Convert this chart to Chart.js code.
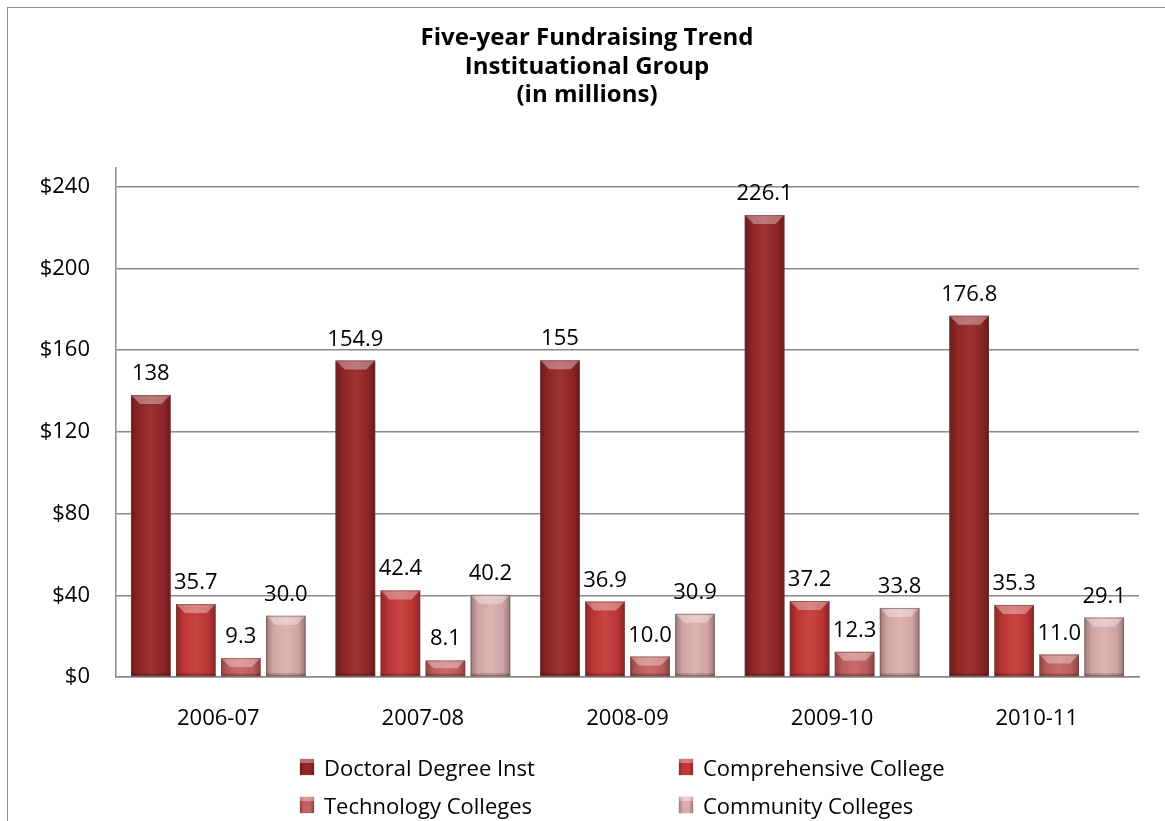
<!DOCTYPE html>
<html>
<head>
<meta charset="utf-8">
<script src="https://cdn.jsdelivr.net/npm/chart.js@4.4.0/dist/chart.umd.min.js"></script>
<style>
  html, body { margin: 0; padding: 0; background: #fff; }
  #wrap { position: relative; width: 1165px; height: 821px; overflow: hidden; }
  #frame { position: absolute; left: 7px; top: 7px; width: 1200px; height: 900px; border: 1.5px solid #8e8e8e; box-sizing: border-box; }
  #chart { position: absolute; left: 0; top: 0; }
  .legend { position: absolute; font-family: "Open Sans", Lato, sans-serif; font-size: 22px; color: #000; white-space: nowrap; }
  .legend .row { position: absolute; display: flex; align-items: center; height: 30px; }
  .legend .mk { width: 14px; height: 16px; margin-right: 10px; box-shadow: 0 0 1px rgba(90,40,40,0.6); }
</style>
</head>
<body>
<div id="wrap">
  <div id="frame"></div>
  <canvas id="chart" width="1165" height="821"></canvas>
  <div class="legend" id="legend"></div>
</div>
<script>
const categories = ['2006-07', '2007-08', '2008-09', '2009-10', '2010-11'];
const seriesNames = ['Doctoral Degree Inst', 'Comprehensive College', 'Technology Colleges', 'Community Colleges'];
const doctoral = [138, 154.9, 155, 226.1, 176.8];
const comprehensive = [35.7, 42.4, 36.9, 37.2, 35.3];
const technology = [9.3, 8.1, 10.0, 12.3, 11.0];
const community = [30.0, 40.2, 30.9, 33.8, 29.1];
const doctoralLabels = ['138', '154.9', '155', '226.1', '176.8'];
const comprehensiveLabels = ['35.7', '42.4', '36.9', '37.2', '35.3'];
const technologyLabels = ['9.3', '8.1', '10.0', '12.3', '11.0'];
const communityLabels = ['30.0', '40.2', '30.9', '33.8', '29.1'];
const yTicks = [0, 40, 80, 120, 160, 200, 240];
const barColors = ['#962727', '#c63838', '#c76161', '#dcaeae'];

const FONT = '"Open Sans", Lato, sans-serif';

// bevel look: darker sides, light top facet
const bevelPlugin = {
    id: 'bevel',
    afterDatasetsDraw(chart) {
        const ctx = chart.ctx;
        chart.data.datasets.forEach((ds, di) => {
            chart.getDatasetMeta(di).data.forEach(bar => {
                const x0 = bar.x - bar.width / 2, x1 = bar.x + bar.width / 2;
                const top = bar.y, bottom = bar.base, h = bottom - top;
                ctx.save();
                const g = ctx.createLinearGradient(x0, 0, x1, 0);
                g.addColorStop(0, 'rgba(0,0,0,0.30)');
                g.addColorStop(0.18, 'rgba(0,0,0,0.06)');
                g.addColorStop(0.5, 'rgba(255,255,255,0.06)');
                g.addColorStop(0.82, 'rgba(0,0,0,0.06)');
                g.addColorStop(1, 'rgba(0,0,0,0.32)');
                ctx.fillStyle = g;
                ctx.fillRect(x0, top, x1 - x0, h);
                const b = Math.min(9, h / 2);
                ctx.beginPath();
                ctx.moveTo(x0, top);
                ctx.lineTo(x1, top);
                ctx.lineTo(x1 - b, top + b);
                ctx.lineTo(x0 + b, top + b);
                ctx.closePath();
                ctx.fillStyle = 'rgba(255,255,255,0.35)';
                ctx.fill();
                ctx.fillStyle = 'rgba(0,0,0,0.18)';
                ctx.fillRect(x0, bottom - 3, x1 - x0, 3);
                ctx.strokeStyle = 'rgba(110,70,70,0.55)';
                ctx.lineWidth = 1;
                ctx.strokeRect(x0 + 0.5, top + 0.5, x1 - x0 - 1, h - 1);
                ctx.restore();
            });
        });
    }
};

const valueLabelPlugin = {
    id: 'valueLabels',
    afterDatasetsDraw(chart) {
        const ctx = chart.ctx;
        ctx.save();
        ctx.font = '22px ' + FONT;
        ctx.fillStyle = '#000';
        ctx.textAlign = 'center';
        ctx.textBaseline = 'alphabetic';
        chart.data.datasets.forEach((ds, di) => {
            chart.getDatasetMeta(di).data.forEach((bar, i) => {
                ctx.fillText(ds.valueLabels[i], bar.x, bar.y - 15);
            });
        });
        ctx.restore();
    }
};

const makeDataset = (label, data, labels, color) => ({
    label: label,
    data: data,
    valueLabels: labels,
    backgroundColor: color,
    borderWidth: 0,
    categoryPercentage: 0.88,
    barPercentage: 0.88
});

const chart = new Chart(document.getElementById('chart'), {
    type: 'bar',
    data: {
        labels: categories,
        datasets: [
            makeDataset(seriesNames[0], doctoral, doctoralLabels, barColors[0]),
            makeDataset(seriesNames[1], comprehensive, comprehensiveLabels, barColors[1]),
            makeDataset(seriesNames[2], technology, technologyLabels, barColors[2]),
            makeDataset(seriesNames[3], community, communityLabels, barColors[3])
        ]
    },
    options: {
        responsive: false,
        animation: false,
        layout: { padding: { left: 35, right: 26, top: 0, bottom: 0 } },
        plugins: {
            legend: { display: false },
            tooltip: { enabled: false },
            title: {
                display: true,
                text: ['Five-year Fundraising Trend', 'Instituational Group', '(in millions)'],
                color: '#000',
                font: { family: FONT, size: 24, weight: 'bold', lineHeight: 1.19 },
                padding: { top: 24, bottom: 58 }
            }
        },
        scales: {
            x: {
                grid: { display: false, drawTicks: false },
                border: { display: true, color: '#8a8a8a', width: 1.5 },
                ticks: { color: '#000', font: { family: FONT, size: 22 }, padding: 29, maxRotation: 0 },
                afterFit: scale => { scale.height = 144; }
            },
            y: {
                min: 0,
                max: 249.3,
                grid: { color: '#8a8a8a', lineWidth: 1.5, drawTicks: false },
                border: { display: true, color: '#8a8a8a', width: 1.5 },
                ticks: {
                    stepSize: 40,
                    color: '#000',
                    padding: 26,
                    font: { family: FONT, size: 22 },
                    callback: v => '$' + v
                },
                afterBuildTicks: scale => {
                    scale.ticks = yTicks.map(v => ({ value: v }));
                },
                afterFit: scale => { scale.width = 81; }
            }
        }
    },
    plugins: [bevelPlugin, valueLabelPlugin]
});

// legend in two columns below the axis
const legendEl = document.getElementById('legend');
const legendPos = [[300, 752], [679, 752], [300, 790], [679, 790]];
seriesNames.forEach((name, i) => {
    const row = document.createElement('div');
    row.className = 'row';
    row.style.left = legendPos[i][0] + 'px';
    row.style.top = legendPos[i][1] + 'px';
    const mk = document.createElement('span');
    mk.className = 'mk';
    const c = barColors[i];
    mk.style.background = `linear-gradient(180deg, rgba(255,255,255,0.35) 0, rgba(255,255,255,0.35) 25%, rgba(0,0,0,0) 25%), linear-gradient(90deg, rgba(0,0,0,0.3), rgba(0,0,0,0) 30%, rgba(0,0,0,0) 70%, rgba(0,0,0,0.3)), ${c}`;
    const tx = document.createElement('span');
    tx.textContent = name;
    row.appendChild(mk);
    row.appendChild(tx);
    legendEl.appendChild(row);
});
</script>
</body>
</html>
